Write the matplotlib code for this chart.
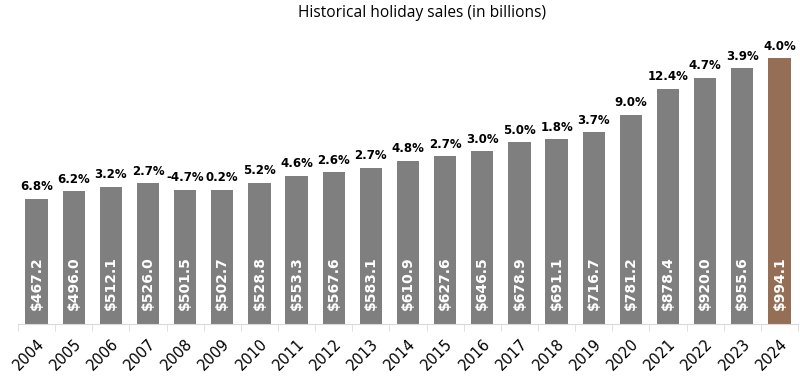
import numpy as np
from matplotlib import pyplot as plt

years = [2004, 2005, 2006, 2007, 2008, 2009, 2010, 2011, 2012, 2013, 2014,
         2015, 2016, 2017, 2018, 2019, 2020, 2021, 2022, 2023, 2024]
sales = [467.2, 496.0, 512.1, 526.0, 501.5, 502.7, 528.8, 553.3, 567.6, 583.1, 610.9,
         627.6, 646.5, 678.9, 691.1, 716.7, 781.2, 878.4, 920.0, 955.6, 994.1]
growth = [6.8, 6.2, 3.2, 2.7, -4.7, 0.2, 5.2, 4.6, 2.6, 2.7, 4.8,
          2.7, 3.0, 5.0, 1.8, 3.7, 9.0, 12.4, 4.7, 3.9, 4.0]

x = np.arange(len(years))
colors = ["#7f7f7f"] * (len(years) - 1) + ["#946f55"]

fig = plt.figure(figsize=(8, 3.82), dpi=100)
ax = fig.add_axes([0.0225, 0.152, 0.975, 0.77])

bars = ax.bar(x, sales, width=0.6, color=colors)

for xi, v, g in zip(x, sales, growth):
    ax.text(xi, 14 * 1100 / 294, "$%.1f" % v, rotation=90, ha="center", va="bottom",
            color="white", fontsize=10, fontweight="bold")
    ax.annotate("%.1f%%" % g, (xi, v), xytext=(0, 4), textcoords="offset points",
                ha="center", va="bottom", fontsize=8.5, fontweight="bold", color="black")

ax.set_xlim(-0.5, len(years) - 0.5)
ax.set_ylim(0, 1100)
ax.set_xticks(x)
ax.set_xticklabels(years, rotation=45, ha="right", rotation_mode="anchor", fontsize=10.5)
ax.set_xticks(np.arange(len(years) + 1) - 0.5, minor=True)
ax.tick_params(axis="x", which="major", length=0, pad=9)
ax.tick_params(axis="x", which="minor", length=5, color="#d9d9d9")
ax.set_yticks([])
for s in ["top", "right", "left"]:
    ax.spines[s].set_visible(False)
ax.spines["bottom"].set_color("#d9d9d9")

fig.text(0.528, 0.965, "Historical holiday sales (in billions)", ha="center", va="center",
         fontsize=11.2, family="Open Sans")

plt.savefig("out.png")
